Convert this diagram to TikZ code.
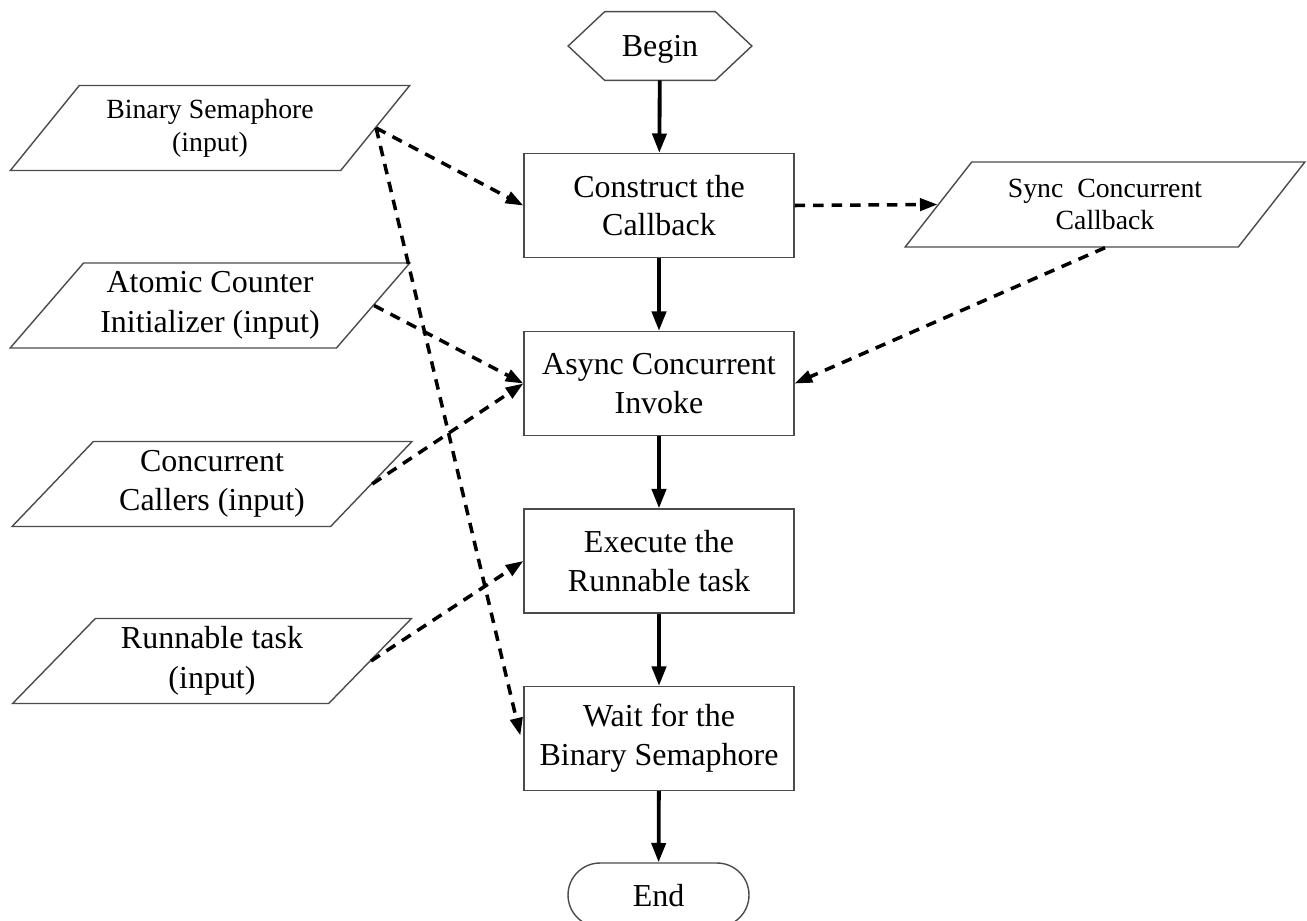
\documentclass[tikz,border=0pt]{standalone}
\usepackage{fontspec}
\setmainfont{Liberation Serif}
\usetikzlibrary{shapes.geometric,shapes.misc,arrows.meta}
\definecolor{edgecol}{RGB}{75,75,75}
\begin{document}
\begin{tikzpicture}[x=0.02cm,y=-0.02cm,
  box/.style={draw=edgecol, line width=0.8pt, minimum width=5.4cm, minimum height=2.08cm,
    align=center, inner sep=0pt, font=\fontsize{18.2}{22}\selectfont},
  io/.style={trapezium, trapezium stretches=true, trapezium left angle=46.7,
    trapezium right angle=133.3, draw=edgecol, line width=0.8pt,
    minimum width=8cm, minimum height=1.7cm, align=center, inner sep=0pt,
    font=\fontsize{18.2}{22.5}\selectfont},
  smalltext/.style={font=\fontsize{15.8}{18.7}\selectfont},
  flow/.style={line width=2.2pt, -{Triangle[length=11pt,width=8pt]}},
  dep/.style={line width=2pt, dash pattern=on 6pt off 4.5pt,
    -{Triangle[length=10pt,width=7pt]}},
]
\clip (0,0) rectangle (1307,920);

% main column
\node[minimum width=3.66cm, minimum height=1.36cm, inner sep=0pt, text depth=0pt,
  font=\fontsize{18.2}{22}\selectfont] (begin) at (660,46) {Begin};
\draw[draw=edgecol, line width=0.8pt] (begin.west) -- ([xshift=0.73cm]begin.north west)
  -- ([xshift=-0.73cm]begin.north east) -- (begin.east)
  -- ([xshift=-0.73cm]begin.south east) -- ([xshift=0.73cm]begin.south west) -- cycle;

\node[box] (cons) at (659,205.5) {Construct the\\Callback};
\node[box] (async) at (659,383.5) {Async Concurrent\\Invoke};
\node[box] (exec) at (659,561) {Execute the\\Runnable task};
\node[box] (wait) at (659,738.5) {Wait for the\\Binary Semaphore};
\node[rounded rectangle, draw=edgecol, line width=0.8pt, minimum width=3.62cm,
  minimum height=1.28cm, inner sep=0pt, text depth=0pt, font=\fontsize{18.2}{22}\selectfont]
  (end) at (658.5,895) {End};

% inputs
\node[io, smalltext] (bin) at (210,128) {Binary Semaphore\\(input)};
\node[io] (atom) at (210,305.5) {Atomic Counter\\Initializer (input)};
\node[io] (conc) at (212,484) {Concurrent\\Callers (input)};
\node[io] (run) at (212,661) {Runnable task\\(input)};
\node[io, smalltext] (sync) at (1105,204.5) {Sync\enspace Concurrent\\Callback};

% solid flow
\draw[flow] (begin) -- (cons);
\draw[flow] (cons) -- (async);
\draw[flow] (async) -- (exec);
\draw[flow] (exec) -- (wait);
\draw[flow] (wait) -- (end);

% dashed dependencies
\draw[dep] (bin.east) -- (cons.west);
\draw[dep] (bin.east) -- ([xshift=-0.06cm,yshift=0.06cm]wait.west);
\draw[dep] (atom.east) -- (async.west);
\draw[dep] (conc.east) -- (async.west);
\draw[dep] (run.east) -- (exec.west);
\draw[dep] (cons.east) -- (sync.west);
\draw[dep] (sync.south) -- (async.east);
\end{tikzpicture}
\end{document}
